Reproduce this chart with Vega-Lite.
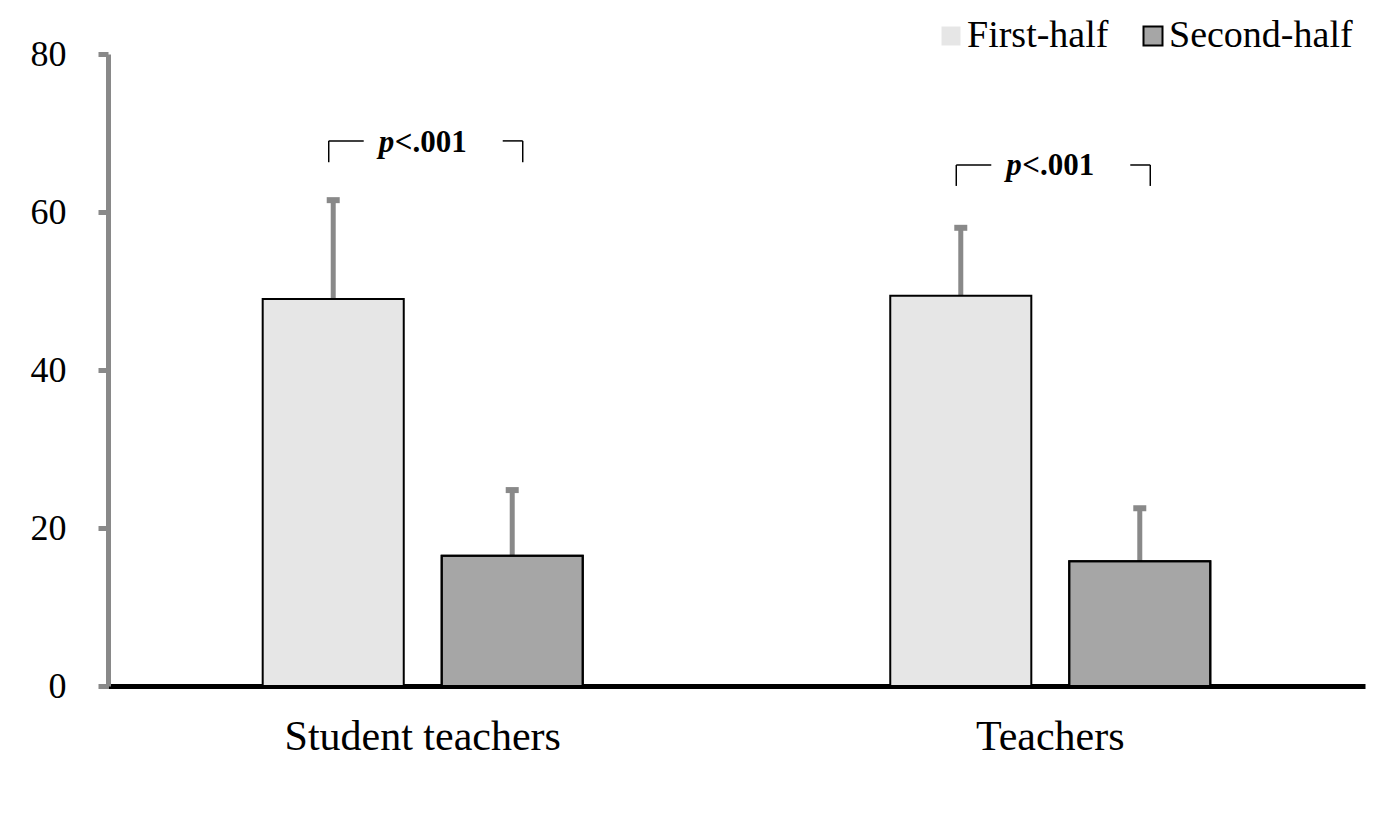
{
  "$schema": "https://vega.github.io/schema/vega-lite/v6.json",
  "autosize": {"type": "none"},
  "padding": {"left": 108, "top": 54, "right": 28, "bottom": 144},
  "width": 1257,
  "height": 632,
  "background": "white",
  "config": {
    "view": {"stroke": null},
    "font": "Liberation Serif",
    "axis": {"labelFont": "Liberation Serif", "labelColor": "black", "grid": false, "title": null, "labelLimit": 0},
    "legend": {
      "title": null,
      "orient": "none",
      "direction": "horizontal",
      "legendX": 824,
      "legendY": -37,
      "padding": 0,
      "symbolType": "square",
      "symbolSize": 361,
      "symbolStrokeWidth": 2,
      "symbolOpacity": 1,
      "labelFont": "Liberation Serif",
      "labelFontSize": 38,
      "labelColor": "black",
      "labelLimit": 0,
      "labelOffset": -3,
      "columnPadding": 25
    }
  },
  "datasets": {
    "bars": [
      {"group": "Student teachers", "half": "First-half", "mean": 49.0, "upper": 61.5},
      {"group": "Student teachers", "half": "Second-half", "mean": 16.5, "upper": 24.8},
      {"group": "Teachers", "half": "First-half", "mean": 49.4, "upper": 58.0},
      {"group": "Teachers", "half": "Second-half", "mean": 15.8, "upper": 22.5}
    ],
    "sig": [
      {"group": "Student teachers", "label": "<.001", "top": 69.0, "bottom": 66.3, "textY": 67.6},
      {"group": "Teachers", "label": "<.001", "top": 65.95, "bottom": 63.3, "textY": 64.7}
    ]
  },
  "encoding": {
    "x": {
      "field": "group",
      "type": "nominal",
      "sort": ["Student teachers", "Teachers"],
      "scale": {"paddingInner": 0.49, "paddingOuter": 0.2465},
      "axis": {
        "labelAngle": 0,
        "labelFontSize": 42,
        "labelBaseline": "alphabetic",
        "labelPadding": 63,
        "labelLimit": 0,
        "ticks": false,
        "domainColor": "black",
        "domainWidth": 5
      }
    }
  },
  "layer": [
    {
      "data": {"name": "bars"},
      "mark": {"type": "rule", "color": "#898989", "strokeWidth": 5},
      "encoding": {
        "xOffset": {"field": "half", "type": "nominal", "scale": {"paddingInner": 0.212, "paddingOuter": 0}},
        "y": {
          "field": "mean",
          "type": "quantitative",
          "scale": {"domain": [0, 80], "nice": false},
          "axis": {
            "values": [0, 20, 40, 60, 80],
            "labelFontSize": 36,
            "labelPadding": 32,
            "tickSize": 10,
            "tickWidth": 5,
            "tickColor": "#898989",
            "domainColor": "#898989",
            "domainWidth": 5
          }
        },
        "y2": {"field": "upper"}
      }
    },
    {
      "data": {"name": "bars"},
      "mark": {"type": "tick", "color": "#898989", "size": 13, "thickness": 6, "opacity": 1},
      "encoding": {
        "xOffset": {"field": "half", "type": "nominal"},
        "y": {"field": "upper", "type": "quantitative"}
      }
    },
    {
      "data": {"name": "bars"},
      "mark": {"type": "bar", "strokeWidth": 2},
      "encoding": {
        "xOffset": {"field": "half", "type": "nominal"},
        "y": {"field": "mean", "type": "quantitative"},
        "color": {
          "field": "half",
          "type": "nominal",
          "scale": {"domain": ["First-half", "Second-half"], "range": ["#e6e6e6", "#a6a6a6"]}
        },
        "stroke": {
          "field": "half",
          "type": "nominal",
          "scale": {"domain": ["First-half", "Second-half"], "range": ["transparent", "black"]}
        }
      }
    },
    {
      "data": {"name": "bars"},
      "mark": {"type": "bar", "fill": "transparent", "stroke": "black", "strokeWidth": 2},
      "encoding": {
        "xOffset": {"field": "half", "type": "nominal"},
        "y": {"field": "mean", "type": "quantitative"}
      }
    },
    {
      "data": {"name": "sig"},
      "mark": {"type": "rule", "color": "black", "strokeWidth": 1.5, "xOffset": -94, "x2Offset": -59},
      "encoding": {"x2": {"field": "group"}, "y": {"field": "top", "type": "quantitative"}}
    },
    {
      "data": {"name": "sig"},
      "mark": {"type": "rule", "color": "black", "strokeWidth": 1.5, "xOffset": -94},
      "encoding": {"y": {"field": "top", "type": "quantitative"}, "y2": {"field": "bottom"}}
    },
    {
      "data": {"name": "sig"},
      "mark": {"type": "rule", "color": "black", "strokeWidth": 1.5, "xOffset": 80, "x2Offset": 100},
      "encoding": {"x2": {"field": "group"}, "y": {"field": "top", "type": "quantitative"}}
    },
    {
      "data": {"name": "sig"},
      "mark": {"type": "rule", "color": "black", "strokeWidth": 1.5, "xOffset": 100},
      "encoding": {"y": {"field": "top", "type": "quantitative"}, "y2": {"field": "bottom"}}
    },
    {
      "data": {"name": "sig"},
      "mark": {"type": "text", "text": "p", "font": "Liberation Serif", "fontSize": 31, "fontWeight": "bold", "fontStyle": "italic", "align": "left", "baseline": "alphabetic", "dx": -44, "color": "black"},
      "encoding": {"y": {"field": "textY", "type": "quantitative"}}
    },
    {
      "data": {"name": "sig"},
      "mark": {"type": "text", "font": "Liberation Serif", "fontSize": 31, "fontWeight": "bold", "align": "left", "baseline": "alphabetic", "dx": -28, "color": "black"},
      "encoding": {"y": {"field": "textY", "type": "quantitative"}, "text": {"field": "label"}}
    }
  ]
}
